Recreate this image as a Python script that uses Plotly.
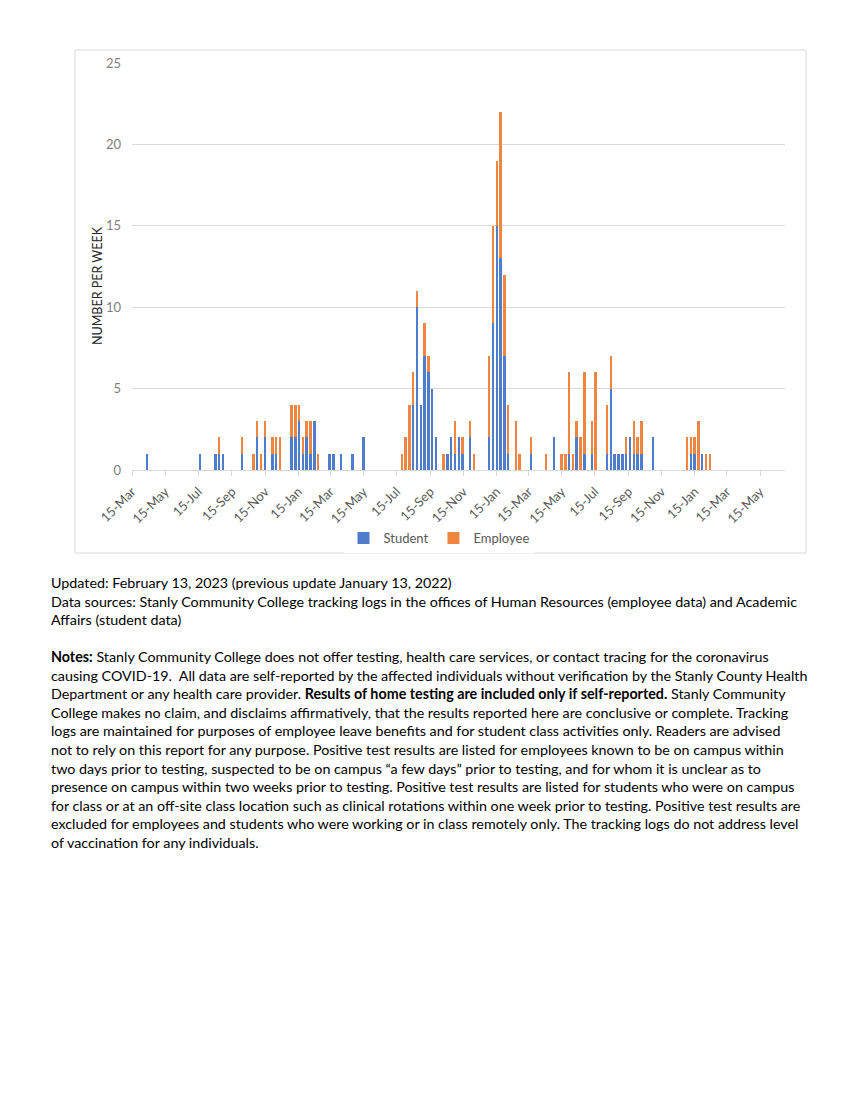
import plotly.graph_objects as go

# ---- data (weekly counts, week starting Sunday) ----
week_dates = [
    "2020-04-12", "2020-07-19", "2020-08-16", "2020-08-23", "2020-08-30",
    "2020-10-04", "2020-10-25", "2020-11-01", "2020-11-08", "2020-11-15",
    "2020-11-29", "2020-12-06", "2020-12-13", "2021-01-03", "2021-01-10",
    "2021-01-17", "2021-01-24", "2021-01-31", "2021-02-07", "2021-02-14",
    "2021-02-21", "2021-03-14", "2021-03-21", "2021-04-04", "2021-04-25",
    "2021-05-16", "2021-07-25", "2021-08-01", "2021-08-08", "2021-08-15",
    "2021-08-22", "2021-08-29", "2021-09-05", "2021-09-12", "2021-09-19",
    "2021-09-26", "2021-10-10", "2021-10-17", "2021-10-24", "2021-10-31",
    "2021-11-07", "2021-11-14", "2021-11-28", "2021-12-05", "2022-01-02",
    "2022-01-09", "2022-01-16", "2022-01-23", "2022-01-30", "2022-02-06",
    "2022-02-20", "2022-02-27", "2022-03-20", "2022-04-17", "2022-05-01",
    "2022-05-15", "2022-05-22", "2022-05-29", "2022-06-05", "2022-06-12",
    "2022-06-19", "2022-06-26", "2022-07-10", "2022-07-17", "2022-08-07",
    "2022-08-14", "2022-08-21", "2022-08-28", "2022-09-04", "2022-09-11",
    "2022-09-18", "2022-09-25", "2022-10-02", "2022-10-09", "2022-10-30",
    "2023-01-01", "2023-01-08", "2023-01-15", "2023-01-22", "2023-01-29",
    "2023-02-05", "2023-02-12",
]
student = [
    1, 1, 1, 1, 1,
    1, 0, 2, 0, 2,
    1, 1, 0, 2, 2,
    3, 1, 2, 1, 3,
    0, 1, 1, 1, 1,
    2, 0, 0, 0, 4,
    10, 4, 7, 6, 5,
    2, 0, 1, 2, 1,
    2, 1, 2, 0, 2,
    9, 15, 13, 7, 1,
    0, 0, 1, 0, 2,
    0, 0, 1, 0, 2,
    0, 1, 1, 0, 1,
    5, 1, 1, 1, 1,
    2, 1, 1, 1, 2,
    0, 1, 1, 0, 1,
    0, 0,
]
employee = [
    0, 0, 0, 1, 0,
    1, 1, 1, 1, 1,
    1, 1, 2, 2, 2,
    1, 1, 1, 2, 0,
    1, 0, 0, 0, 0,
    0, 1, 2, 4, 2,
    1, 0, 2, 1, 0,
    0, 1, 0, 0, 2,
    0, 1, 1, 1, 5,
    6, 4, 9, 5, 3,
    3, 1, 1, 1, 0,
    1, 1, 5, 1, 1,
    2, 5, 2, 6, 3,
    2, 0, 0, 0, 1,
    0, 2, 1, 2, 0,
    2, 1, 1, 3, 0,
    1, 1,
]
tick_dates = [
    "2020-03-15", "2020-05-15", "2020-07-15", "2020-09-15", "2020-11-15",
    "2021-01-15", "2021-03-15", "2021-05-15", "2021-07-15", "2021-09-15",
    "2021-11-15", "2022-01-15", "2022-03-15", "2022-05-15", "2022-07-15",
    "2022-09-15", "2022-11-15", "2023-01-15", "2023-03-15", "2023-05-15",
]
tick_labels = ["15-Mar", "15-May", "15-Jul", "15-Sep", "15-Nov", "15-Jan",
               "15-Mar", "15-May", "15-Jul", "15-Sep", "15-Nov", "15-Jan",
               "15-Mar", "15-May", "15-Jul", "15-Sep", "15-Nov", "15-Jan",
               "15-Mar", "15-May"]
y_ticks = [0, 5, 10, 15, 20, 25]

notes_lines = [
    "Updated: February 13, 2023 (previous update January 13, 2022)",
    "Data sources: Stanly Community College tracking logs in the offices of Human Resources (employee data) and Academic",
    "Affairs (student data)",
    "",
    "<b>Notes:</b> Stanly Community College does not offer testing, health care services, or contact tracing for the coronavirus",
    "causing COVID-19.  All data are self-reported by the affected individuals without verification by the Stanly County Health",
    "Department or any health care provider. <b>Results of home testing are included only if self-reported.</b> Stanly Community",
    "College makes no claim, and disclaims affirmatively, that the results reported here are conclusive or complete. Tracking",
    "logs are maintained for purposes of employee leave benefits and for student class activities only. Readers are advised",
    "not to rely on this report for any purpose. Positive test results are listed for employees known to be on campus within",
    "two days prior to testing, suspected to be on campus \u201ca few days\u201d prior to testing, and for whom it is unclear as to",
    "presence on campus within two weeks prior to testing. Positive test results are listed for students who were on campus",
    "for class or at an off-site class location such as clinical rotations within one week prior to testing. Positive test results are",
    "excluded for employees and students who were working or in class remotely only. The tracking logs do not address level",
    "of vaccination for any individuals.",
]

# ---- layout geometry (pixels) ----
W, H = 850, 1100
PL, PR, PT, PB = 132, 785, 63, 470  # plot area


def px2x(px):
    return (px - PL) / (PR - PL)


def px2y(py):
    return (PB - py) / (PB - PT)


BAR_W = 3.6 * 86400000
BLUE = "#4F7DCC"
ORANGE = "#EE8540"
FONT = "Lato"

fig = go.Figure()
fig.add_trace(go.Bar(x=week_dates, y=student, name="Student",
                     marker=dict(color=BLUE, line=dict(width=0)), width=BAR_W))
fig.add_trace(go.Bar(x=week_dates, y=employee, name="Employee",
                     marker=dict(color=ORANGE, line=dict(width=0)), width=BAR_W))

annotations = []
# y-axis title
annotations.append(dict(
    x=px2x(97), y=px2y(286), xref="paper", yref="paper",
    text="NUMBER PER WEEK", textangle=-90, showarrow=False,
    font=dict(family=FONT, size=12.5, color="#262626"),
    xanchor="center", yanchor="middle"))

# notes text lines
y0 = 582.5
step = 18.55
for i, line in enumerate(notes_lines):
    if not line:
        continue
    annotations.append(dict(
        x=px2x(49), y=px2y(y0 + i * step), xref="paper", yref="paper",
        text=line, showarrow=False, xanchor="left", yanchor="middle",
        align="left", font=dict(family=FONT, size=14.3, color="#000000")))

fig.update_layout(
    width=W, height=H,
    margin=dict(l=PL, r=W - PR, t=PT, b=H - PB, pad=0),
    paper_bgcolor="white", plot_bgcolor="white",
    barmode="stack", bargap=0,
    showlegend=True,
    legend=dict(orientation="h", x=px2x(439), y=px2y(538), xanchor="center",
                yanchor="middle", font=dict(family=FONT, size=13, color="#595959"),
                itemwidth=30, traceorder="normal"),
    annotations=annotations,
    shapes=[dict(type="rect", xref="paper", yref="paper",
                 x0=px2x(75), x1=px2x(806), y0=px2y(553), y1=px2y(50),
                 line=dict(color="#D9D9D9", width=1), fillcolor="rgba(0,0,0,0)",
                 layer="below")],
    xaxis=dict(type="date", range=["2020-03-15", "2023-06-30"],
               tickmode="array", tickvals=tick_dates, ticktext=tick_labels,
               tickangle=-45, tickfont=dict(family=FONT, size=13, color="#595959"),
               ticks="outside", ticklen=5, tickcolor="#D9D9D9",
               ticklabelstandoff=3,
               showline=True, linecolor="#D9D9D9", linewidth=1,
               showgrid=False, zeroline=False),
    yaxis=dict(range=[0, 25], tickmode="array", tickvals=y_ticks,
               tickfont=dict(family=FONT, size=13, color="#7F7F7F"),
               showgrid=True, gridcolor="#D9D9D9", gridwidth=1,
               zeroline=False, showline=False, ticks="", ticklabelstandoff=10),
)

fig.write_html("out.html", config={"displayModeBar": False},
               post_script="document.body.style.margin='0';")
